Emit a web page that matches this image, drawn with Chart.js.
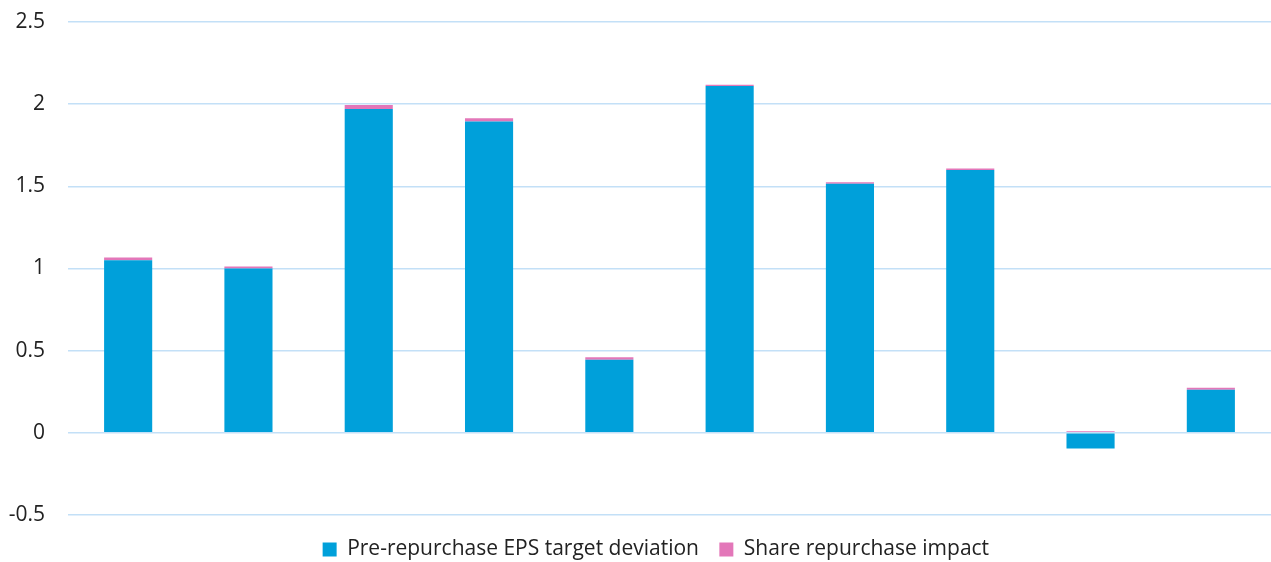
<!DOCTYPE html>
<html>
<head>
<meta charset="utf-8">
<script src="https://cdn.jsdelivr.net/npm/chart.js@4"></script>
<style>
  html, body { margin: 0; padding: 0; background: #fff; }
  #wrap { width: 1271px; height: 562px; }
</style>
</head>
<body>
<div id="wrap"><canvas id="chart"></canvas></div>
<script>
// data
const categories = ['1', '2', '3', '4', '5', '6', '7', '8', '9', '10'];
const preRepurchase = [1.05, 1.0, 1.97, 1.895, 0.445, 2.11, 1.515, 1.6, -0.095, 0.262];
const repurchaseImpact = [0.017, 0.012, 0.025, 0.02, 0.015, 0.008, 0.01, 0.008, 0.01, 0.012];
const seriesNames = ['Pre-repurchase EPS target deviation', 'Share repurchase impact'];

const FONT = '"Open Sans", Lato, sans-serif';

// legend sits a bit lower than Chart.js puts it
const nudgeLegend = {
	id: 'nudgeLegend',
	afterLayout(chart) {
		if (chart.legend) {
			chart.legend.top += 8;
			chart.legend.bottom += 8;
		}
	}
};

new Chart(document.getElementById('chart'), {
	type: 'bar',
	data: {
		labels: categories,
		datasets: [
			{
				label: seriesNames[0],
				data: preRepurchase,
				backgroundColor: '#00A0DA',
				barPercentage: 0.4,
				categoryPercentage: 1.0,
			},
			{
				label: seriesNames[1],
				data: repurchaseImpact,
				backgroundColor: '#E377B9',
				barPercentage: 0.4,
				categoryPercentage: 1.0,
			},
		]
	},
	plugins: [nudgeLegend],
	options: {
		responsive: true,
		maintainAspectRatio: false,
		animation: false,
		layout: { padding: 0 },
		scales: {
			x: {
				stacked: true,
				ticks: { display: false },
				grid: { display: false },
				border: { display: false },
				afterFit: (s) => { s.height = 12; },
			},
			y: {
				stacked: true,
				min: -0.5,
				max: 2.5,
				ticks: {
					stepSize: 0.5,
					color: '#222',
					font: { family: FONT, size: 21 },
					padding: 23,
					callback: (v) => String(v),
				},
				grid: { color: '#C3E0F7', lineWidth: 1.5, drawTicks: false },
				border: { display: false },
				afterFit: (s) => {
					s.width = 68;
					s.paddingTop = 22;
					s.paddingBottom = 0;
				},
			}
		},
		plugins: {
			legend: {
				position: 'bottom',
				fullSize: false,
				labels: {
					boxWidth: 14,
					boxHeight: 14,
					padding: 4,
					color: '#222',
					font: { family: FONT, size: 21 },
					// extra spaces give the gap between the two items and nudge the block left
					generateLabels: (chart) => {
						const items = Chart.defaults.plugins.legend.labels.generateLabels(chart);
						items[0].text = items[0].text + '   ';
						items[1].text = items[1].text + '     ';
						return items;
					},
				}
			},
			tooltip: { enabled: false },
		}
	}
});
</script>
</body>
</html>
